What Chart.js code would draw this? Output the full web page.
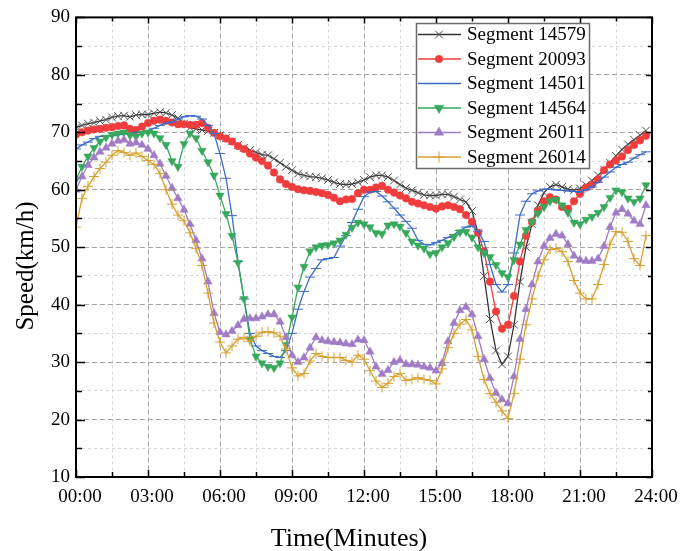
<!DOCTYPE html>
<html>
<head>
<meta charset="utf-8">
<script src="https://cdn.jsdelivr.net/npm/chart.js@4/dist/chart.umd.min.js"></script>
<style>
html,body{margin:0;padding:0;background:#fff;}
#wrap{width:690px;height:551px;position:relative;}
</style>
</head>
<body>
<div id="wrap"><canvas id="c" width="690" height="551"></canvas></div>
<script>
// ---------- DATA ----------
const timeLabels = [
"00:00","00:15","00:30","00:45","01:00","01:15","01:30","01:45",
"02:00","02:15","02:30","02:45","03:00","03:15","03:30","03:45",
"04:00","04:15","04:30","04:45","05:00","05:15","05:30","05:45",
"06:00","06:15","06:30","06:45","07:00","07:15","07:30","07:45",
"08:00","08:15","08:30","08:45","09:00","09:15","09:30","09:45",
"10:00","10:15","10:30","10:45","11:00","11:15","11:30","11:45",
"12:00","12:15","12:30","12:45","13:00","13:15","13:30","13:45",
"14:00","14:15","14:30","14:45","15:00","15:15","15:30","15:45",
"16:00","16:15","16:30","16:45","17:00","17:15","17:30","17:45",
"18:00","18:15","18:30","18:45","19:00","19:15","19:30","19:45",
"20:00","20:15","20:30","20:45","21:00","21:15","21:30","21:45",
"22:00","22:15","22:30","22:45","23:00","23:15","23:30","23:45"];

const seg14579 = [
70.8,71.2,71.5,71.7, 72.0,72.2,72.6,72.8, 72.9,72.7,73.0,73.1, 73.1,73.3,73.5,73.4,
73.0,72.5,71.5,70.8, 70.6,70.4,70.2,69.9, 69.5,69.0,68.4,67.8, 67.3,66.9,66.5,66.1,
66.0,65.4,64.7,64.0, 63.4,62.8,62.5,62.3, 62.2,62.0,61.7,61.3, 61.0,60.9,61.0,61.3,
61.7,62.2,62.5,62.5, 62.2,61.6,60.9,60.3, 59.9,59.5,59.1,59.0, 59.0,59.2,59.2,58.8,
58.3,57.9,56.3,52.5, 45.0,37.5,32.0,29.6, 31.0,36.5,44.0,50.0, 54.0,57.3,59.5,60.5,
60.9,60.5,60.1,59.9, 60.2,60.8,61.6,62.5, 63.5,64.7,65.9,67.0, 67.9,68.7,69.5,70.3];

const seg20093 = [
69.6,70.0,70.3,70.5, 70.6,70.8,70.9,71.1, 71.2,70.6,70.4,71.0, 71.6,72.0,72.2,72.0,
71.7,71.4,71.4,71.3, 71.3,71.6,70.8,69.9, 69.3,68.9,68.4,67.6, 67.1,66.3,65.6,65.0,
64.2,63.0,61.8,61.0, 60.5,60.1,59.9,59.8, 59.6,59.4,59.1,58.6, 58.0,58.3,58.4,59.4,
60.0,60.0,60.4,60.7, 60.0,59.5,59.0,58.5, 57.9,57.6,57.3,57.0, 56.7,57.1,57.3,57.0,
56.6,55.6,54.4,52.5, 49.3,44.0,38.8,35.8, 36.5,41.5,47.5,52.0, 54.4,56.3,58.0,58.7,
58.3,57.0,56.7,58.0, 59.3,60.4,60.9,61.8, 63.4,64.4,65.1,65.8, 66.9,67.8,68.6,69.4];

const seg14501 = [
67.1,67.8,68.3,68.9, 69.3,69.4,69.4,69.6, 69.7,69.8,70.0,70.1, 70.3,70.7,71.2,71.6,
71.8,72.3,72.7,72.9, 72.8,72.3,71.2,69.8, 66.3,62.0,55.5,47.5, 41.0,35.0,32.8,32.0,
31.5,31.0,30.8,32.0, 35.0,39.2,42.3,44.8, 46.3,47.8,48.0,48.2, 50.2,52.0,54.3,56.6,
58.8,59.6,59.7,58.9, 57.9,56.8,55.6,54.5, 53.3,51.2,50.5,50.4, 50.8,51.2,51.7,52.2,
52.9,53.5,53.7,52.8, 51.0,47.0,43.5,42.2, 43.5,49.0,55.6,58.0, 59.3,59.8,60.1,60.1,
60.0,59.9,59.8,59.7, 59.6,60.0,60.5,61.3, 62.2,63.1,63.9,64.4, 64.8,65.5,66.1,66.6];

const seg14564 = [
61.8,64.0,65.8,67.3, 68.4,69.1,69.6,69.8, 70.0,69.5,69.3,69.8, 70.0,69.8,69.0,67.8,
65.0,64.0,68.0,69.8, 69.0,66.8,64.8,62.5, 59.0,55.8,52.0,47.3, 41.0,34.0,31.0,29.8,
29.2,29.0,29.8,33.0, 37.8,43.0,46.6,49.3, 50.0,50.3,50.4,50.7, 51.2,52.2,53.4,54.3,
54.0,53.5,52.5,52.3, 53.8,54.0,53.6,52.5, 51.0,50.3,49.8,48.8, 49.0,50.0,50.7,51.8,
52.6,52.7,51.7,50.0, 49.0,48.3,46.9,45.5, 44.8,47.8,50.5,53.0, 54.4,55.9,57.0,58.0,
58.3,57.3,56.0,54.3, 54.0,54.8,55.3,56.0, 57.0,58.6,59.9,59.6, 58.5,57.9,58.5,60.8];

const seg26011 = [
60.0,62.3,64.3,65.6, 66.6,67.3,68.0,68.5, 68.7,68.0,68.2,67.8, 67.1,66.0,64.5,62.4,
60.3,58.5,56.5,54.0, 51.2,48.0,44.0,38.5, 35.2,34.8,35.4,36.4, 37.5,37.6,37.6,37.9,
38.3,38.3,37.0,34.3, 31.2,30.0,30.8,32.5, 34.3,33.8,33.6,33.5, 33.4,33.2,33.1,33.9,
33.8,31.8,29.2,27.9, 28.6,30.0,30.3,29.6, 29.6,29.5,29.2,29.0, 28.5,29.8,33.6,36.8,
39.0,39.6,38.3,34.5, 30.5,27.2,24.6,23.5, 22.8,27.5,34.0,39.2, 43.5,47.5,50.2,51.6,
52.3,52.0,50.5,48.5, 47.8,47.6,47.6,48.0, 50.2,53.5,56.0,56.6, 55.8,54.6,54.0,57.3];

const seg26014 = [
53.5,58.5,60.6,62.3, 63.7,64.8,66.0,66.8, 66.5,66.0,66.4,65.8, 65.1,64.4,62.8,60.0,
57.5,55.6,54.6,52.5, 49.8,46.8,42.0,36.8, 33.5,31.6,32.8,34.0, 34.3,33.6,34.5,35.2,
35.3,35.1,34.5,32.3, 29.0,27.6,28.0,30.2, 31.5,31.0,30.8,30.8, 30.8,30.3,30.0,31.2,
30.5,28.5,26.7,25.6, 26.3,27.5,28.0,26.8, 27.0,27.3,27.0,26.8, 26.2,28.8,32.5,35.0,
36.6,37.4,35.6,31.0, 27.0,24.5,23.0,21.5, 20.2,24.5,30.5,36.5, 41.0,45.0,47.8,49.6,
49.8,49.2,47.5,44.2, 42.0,41.0,41.0,43.5, 47.0,50.5,52.7,52.6, 51.0,48.0,46.8,52.0];

const seriesNames = ["Segment 14579","Segment 20093","Segment 14501","Segment 14564","Segment 26011","Segment 26014"];
const xTickLabels = ["00:00","03:00","06:00","09:00","12:00","15:00","18:00","21:00","24:00"];
const yTickLabels = ["10","20","30","40","50","60","70","80","90"];
const xTitle = "Time(Minutes)";
const yTitle = "Speed(km/h)";

// ---------- STYLE ----------
const FONT = '"Liberation Serif","Times New Roman",Times,serif';
const allSeries = [seg14579, seg20093, seg14501, seg14564, seg26011, seg26014];
const styles = [
  {line:'#333333', pt:'#505050', fill:'#505050', style:'crossRot', r:5.5, bw:1, rot:0},
  {line:'#f03c3c', pt:'#f03c3c', fill:'#f03c3c', style:'circle', r:3.8, bw:0.5, rot:0},
  {line:'#3b6cc6', pt:'#3b6cc6', fill:'#3b6cc6', style:'line', r:5, bw:1, rot:0},
  {line:'#37a85c', pt:'#37a85c', fill:'#37a85c', style:'triangle', r:4.8, bw:0.5, rot:180},
  {line:'#a07cc6', pt:'#a07cc6', fill:'#a07cc6', style:'triangle', r:4.8, bw:0.5, rot:0},
  {line:'#d6a030', pt:'#d6a030', fill:'#d6a030', style:'cross', r:5, bw:1, rot:0}
];

function toHours(s){ const p = s.split(':'); return (+p[0]) + (+p[1])/60; }
const hours = timeLabels.map(toHours);

const datasets = allSeries.map((vals, i) => ({
  label: seriesNames[i],
  data: hours.map((h, j) => ({x: h, y: vals[j]})),
  borderColor: styles[i].line,
  backgroundColor: styles[i].fill,
  borderWidth: 1.3,
  pointStyle: styles[i].style,
  pointRadius: styles[i].r,
  pointRotation: styles[i].rot,
  pointBorderColor: styles[i].pt,
  pointBackgroundColor: styles[i].fill,
  pointBorderWidth: styles[i].bw,
  tension: 0,
  order: allSeries.length - i
}));

// frame + inward ticks on all four sides
const framePlugin = {
  id: 'frame',
  afterDatasetsDraw(chart){
    const {ctx, chartArea: a, scales: {x, y}} = chart;
    ctx.save();
    ctx.strokeStyle = '#000';
    ctx.lineWidth = 1.5;
    ctx.beginPath();
    for (const t of x.ticks){
      const v = t.value;
      const px = Math.round(x.getPixelForValue(v)) + 0.5;
      const maj = Math.abs(v % 3) < 1e-6;
      ctx.moveTo(px, a.bottom); ctx.lineTo(px, a.bottom - (maj ? 7 : 5));
      ctx.moveTo(px, a.top); ctx.lineTo(px, a.top + (maj ? 6 : 4));
    }
    for (const t of y.ticks){
      const v = t.value;
      const py = Math.round(y.getPixelForValue(v)) + 0.5;
      const maj = Math.abs(v % 10) < 1e-6;
      ctx.moveTo(a.left, py); ctx.lineTo(a.left + (maj ? 9 : 6), py);
      ctx.moveTo(a.right, py); ctx.lineTo(a.right - (maj ? 6 : 4), py);
    }
    ctx.stroke();
    ctx.lineWidth = 2;
    ctx.strokeRect(a.left, a.top, a.right - a.left, a.bottom - a.top);
    ctx.restore();
  }
};

// axis titles (placed as in the original figure, slightly off-centre)
const titlePlugin = {
  id: 'axisTitles',
  afterDraw(chart){
    const ctx = chart.ctx;
    ctx.save();
    ctx.fillStyle = '#000';
    ctx.textAlign = 'center';
    ctx.textBaseline = 'middle';
    ctx.font = '26px ' + FONT;
    ctx.fillText(xTitle, 349, 539);
    ctx.translate(26, 266);
    ctx.rotate(-Math.PI / 2);
    ctx.font = '25px ' + FONT;
    ctx.fillText(yTitle, 0, 0);
    ctx.restore();
  }
};

function drawMarker(ctx, st, cx, cy, r){
  if (window.Chart && Chart.helpers && Chart.helpers.drawPoint){
    Chart.helpers.drawPoint(ctx, {pointStyle: st.style, radius: r, rotation: st.rot, borderWidth: st.bw}, cx, cy);
  }
}

// legend drawn inside the plot (line + marker + label)
const legendPlugin = {
  id: 'boxLegend',
  afterDraw(chart){
    const ctx = chart.ctx;
    const bx = 416, by = 23, bw = 173, bh = 145;
    ctx.save();
    ctx.fillStyle = '#fff';
    ctx.fillRect(bx, by, bw, bh);
    ctx.strokeStyle = '#6a6a6a';
    ctx.lineWidth = 1.5;
    ctx.strokeRect(bx + 0.5, by + 0.5, bw, bh);
    ctx.font = '19px ' + FONT;
    ctx.textBaseline = 'middle';
    ctx.textAlign = 'left';
    seriesNames.forEach((name, i) => {
      const st = styles[i];
      const cy = by + 11.5 + i * 24.5;
      ctx.strokeStyle = st.line;
      ctx.lineWidth = 1.5;
      ctx.beginPath(); ctx.moveTo(bx + 2, cy); ctx.lineTo(bx + 45, cy); ctx.stroke();
      ctx.strokeStyle = st.pt; ctx.fillStyle = st.fill; ctx.lineWidth = st.bw;
      if (st.style !== 'line') drawMarker(ctx, st, bx + 23, cy, st.style === 'circle' ? 3.8 : 5.5);
      ctx.fillStyle = '#000';
      ctx.fillText(name, bx + 51, cy + 1);
    });
    ctx.restore();
  }
};

new Chart(document.getElementById('c').getContext('2d'), {
  type: 'line',
  data: { datasets },
  options: {
    responsive: false,
    animation: false,
    devicePixelRatio: 1,
    layout: { padding: { top: 15, right: 38, left: 0, bottom: 0 } },
    plugins: { legend: { display: false }, tooltip: { enabled: false } },
    scales: {
      x: {
        type: 'linear', min: 0, max: 24,
        afterFit: s => { s.height = 74; },
        ticks: {
          stepSize: 1.5, autoSkip: false, maxRotation: 0, padding: 9, labelOffset: 4,
          color: '#000', font: { family: FONT, size: 19 },
          callback: v => (Math.abs(v % 3) < 1e-6 ? xTickLabels[Math.round(v / 3)] : '')
        },
        grid: {
          drawTicks: false, lineWidth: 1,
          color: c => {
            const v = c.tick ? c.tick.value : 0;
            if (v <= 0 || v >= 24) return 'rgba(0,0,0,0)';
            return Math.abs(v % 3) < 1e-6 ? '#a6a6a6' : '#d6d6d6';
          }
        },
        border: { display: false, dash: c => (c.tick && Math.abs(c.tick.value % 3) < 1e-6 ? [5, 3] : [3, 3]) },
        title: { display: false }
      },
      y: {
        min: 10, max: 90,
        afterFit: s => { s.width = 76; },
        ticks: {
          stepSize: 5, autoSkip: false, padding: 6,
          color: '#000', font: { family: FONT, size: 19 },
          callback: v => (Math.abs(v % 10) < 1e-6 ? yTickLabels[Math.round((v - 10) / 10)] : '')
        },
        grid: {
          drawTicks: false, lineWidth: 1,
          color: c => {
            const v = c.tick ? c.tick.value : 0;
            if (v <= 10 || v >= 90) return 'rgba(0,0,0,0)';
            return Math.abs(v % 10) < 1e-6 ? '#a6a6a6' : '#d6d6d6';
          }
        },
        border: { display: false, dash: c => (c.tick && Math.abs(c.tick.value % 10) < 1e-6 ? [5, 3] : [3, 3]) },
        title: { display: false }
      }
    }
  },
  plugins: [framePlugin, titlePlugin, legendPlugin]
});
</script>
</body>
</html>
